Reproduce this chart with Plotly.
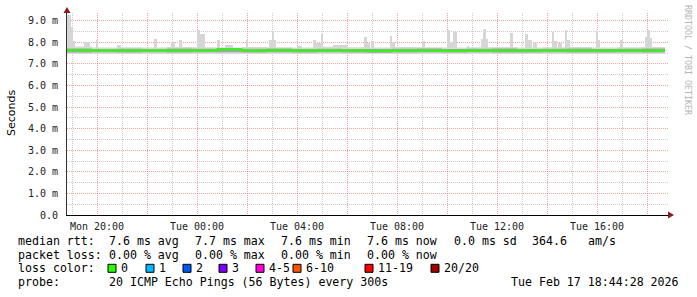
import plotly.graph_objects as go
from datetime import datetime, timedelta

# ---------------- data ----------------
t0 = datetime(2026, 2, 16, 18, 48, 0)          # left edge of graph
span_h = 24.04                                  # hours shown

# smoke band (hours from t0), values in ms
band_h = [0, 1, 2, 3, 4, 5, 6, 7, 8, 9, 10, 11, 12, 13, 14, 15, 16, 17, 18, 19, 20, 21, 22, 23, 23.92]
smoke_lo = [7.46, 7.47, 7.46, 7.47, 7.45, 7.47, 7.46, 7.46, 7.47, 7.45, 7.46, 7.47, 7.46,
            7.45, 7.46, 7.47, 7.46, 7.45, 7.46, 7.47, 7.46, 7.46, 7.45, 7.46, 7.46]
smoke_hi = [7.80, 7.76, 7.77, 7.76, 7.78, 7.77, 7.76, 7.78, 7.77, 7.76, 7.79, 7.77, 7.76,
            7.78, 7.77, 7.76, 7.77, 7.78, 7.76, 7.77, 7.78, 7.76, 7.77, 7.78, 7.78]
core_lo = [7.52, 7.53, 7.52, 7.53, 7.52, 7.53, 7.53, 7.52, 7.53, 7.52, 7.53, 7.52, 7.51,
           7.52, 7.53, 7.52, 7.53, 7.52, 7.52, 7.53, 7.52, 7.52, 7.53, 7.52, 7.52]
core_hi = [7.71, 7.69, 7.70, 7.69, 7.71, 7.70, 7.73, 7.70, 7.71, 7.69, 7.70, 7.69, 7.69,
           7.70, 7.71, 7.69, 7.70, 7.71, 7.69, 7.70, 7.71, 7.69, 7.70, 7.71, 7.71]
median_ms = [7.63, 7.61, 7.62, 7.61, 7.62, 7.62, 7.66, 7.61, 7.63, 7.61, 7.62, 7.61, 7.60,
             7.61, 7.62, 7.60, 7.61, 7.62, 7.61, 7.62, 7.61, 7.61, 7.62, 7.62, 7.62]

# smoke spikes: start / end (hours from t0) and top (ms)
spike_start = [0.00, 0.16, 0.24, 0.68, 1.16, 2.00, 3.48, 4.16, 4.48, 5.20, 5.32, 6.00, 6.32,
               7.16, 8.08, 8.20, 8.28, 9.20, 9.84, 9.96, 10.16, 10.64, 11.88, 12.00, 12.16,
               12.92, 13.00, 14.20, 15.20, 15.32, 15.44, 16.00, 16.56, 16.64, 16.76, 17.72,
               18.32, 18.44, 18.64, 19.40, 19.48, 19.64, 19.92, 20.00, 21.16, 21.24, 22.12,
               23.12, 23.20, 23.32]
spike_end = [0.16, 0.24, 0.32, 0.92, 1.24, 2.16, 3.60, 4.32, 4.60, 5.32, 5.52, 6.12, 6.64,
             7.24, 8.20, 8.28, 8.36, 9.40, 9.96, 10.16, 10.24, 11.20, 12.00, 12.12, 12.28,
             13.00, 13.12, 14.32, 15.32, 15.44, 15.60, 16.08, 16.64, 16.76, 16.84, 17.84,
             18.44, 18.60, 18.80, 19.48, 19.60, 19.80, 20.00, 20.12, 21.24, 21.32, 22.24,
             23.20, 23.32, 23.40]
spike_top = [9.27, 8.70, 8.06, 8.02, 8.12, 7.88, 8.15, 8.03, 8.10, 8.57, 8.40, 8.09, 7.87,
             8.09, 8.10, 8.50, 8.10, 7.82, 8.09, 7.95, 8.38, 7.87, 8.25, 7.95, 8.06,
             8.27, 8.02, 8.06, 8.55, 8.02, 8.45, 7.82, 8.15, 8.62, 8.15, 8.42,
             8.38, 8.08, 7.95, 8.48, 8.07, 7.98, 8.55, 8.10, 8.52, 8.10, 8.12,
             8.22, 8.56, 8.20]
spike_base = 7.60

y_tick_vals = [0, 1, 2, 3, 4, 5, 6, 7, 8, 9]
y_tick_text = ["0.0", "1.0 m", "2.0 m", "3.0 m", "4.0 m", "5.0 m", "6.0 m", "7.0 m", "8.0 m", "9.0 m"]
y_minor_vals = [0.5, 1.5, 2.5, 3.5, 4.5, 5.5, 6.5, 7.5, 8.5]

x_major_clock = ["2026-02-16 20:00", "2026-02-16 22:00", "2026-02-17 00:00", "2026-02-17 02:00",
                 "2026-02-17 04:00", "2026-02-17 06:00", "2026-02-17 08:00", "2026-02-17 10:00",
                 "2026-02-17 12:00", "2026-02-17 14:00", "2026-02-17 16:00", "2026-02-17 18:00"]
x_major_text = ["Mon 20:00", "", "Tue 00:00", "", "Tue 04:00", "", "Tue 08:00", "",
                "Tue 12:00", "", "Tue 16:00", ""]
x_minor_clock = ["2026-02-16 19:00", "2026-02-16 21:00", "2026-02-16 23:00", "2026-02-17 01:00",
                 "2026-02-17 03:00", "2026-02-17 05:00", "2026-02-17 07:00", "2026-02-17 09:00",
                 "2026-02-17 11:00", "2026-02-17 13:00", "2026-02-17 15:00", "2026-02-17 17:00"]

legend_rtt = ["7.6 ms avg", "7.7 ms max", "7.6 ms min", "7.6 ms now", "0.0 ms sd", "364.6", "am/s"]
legend_loss = ["0.00 % avg", "0.00 % max", "0.00 % min", "0.00 % now"]
loss_labels = ["0", "1", "2", "3", "4-5", "6-10", "11-19", "20/20"]
loss_colors = ["#26ff00", "#00b8ff", "#0059ff", "#7e00ff", "#ff00dd", "#ff5500", "#ff0000", "#a10000"]
probe_text = "20 ICMP Echo Pings (56 Bytes) every 300s"
stamp_text = "Tue Feb 17 18:44:28 2026"

# ---------------- layout geometry ----------------
W, H = 697, 297
L, R, T, B = 67, 29, 13, 82
PW, PH = W - L - R, H - T - B


def px_x(px):
    return (px - L) / PW


def px_y(py):
    return (H - B - py) / PH


def tm(h):
    return t0 + timedelta(hours=h)


band_x = [tm(h) for h in band_h]

fig = go.Figure()

# spikes (drawn first, under the band)
fig.add_trace(go.Bar(
    x=[tm((s + e) / 2) for s, e in zip(spike_start, spike_end)],
    y=[tp - spike_base for tp in spike_top],
    base=spike_base,
    width=[(e - s) * 3600000 for s, e in zip(spike_start, spike_end)],
    marker=dict(color="#d6d6d6", line=dict(width=0)),
    hoverinfo="skip",
))

# light smoke
fig.add_trace(go.Scatter(x=band_x, y=smoke_lo, mode="lines", line=dict(width=0, shape="hv"),
                         hoverinfo="skip"))
fig.add_trace(go.Scatter(x=band_x, y=smoke_hi, mode="lines", line=dict(width=0, shape="hv"),
                         fill="tonexty", fillcolor="#d8d8d8", hoverinfo="skip"))
# core smoke
fig.add_trace(go.Scatter(x=band_x, y=core_lo, mode="lines", line=dict(width=0, shape="hv"),
                         hoverinfo="skip"))
fig.add_trace(go.Scatter(x=band_x, y=core_hi, mode="lines", line=dict(width=0, shape="hv"),
                         fill="tonexty", fillcolor="#a4a4a4", hoverinfo="skip"))
# median
fig.add_trace(go.Scatter(x=band_x, y=median_ms, mode="lines",
                         line=dict(color="#26ff00", width=2, shape="hv"), hoverinfo="skip"))

major_grid = "rgba(220,90,90,0.55)"
minor_grid = "rgba(170,170,170,0.6)"
dash = "1px,1px"

fig.update_layout(
    width=W, height=H,
    margin=dict(l=L, r=R, t=T, b=B, pad=0),
    paper_bgcolor="white", plot_bgcolor="white",
    showlegend=False,
    bargap=0,
    xaxis=dict(
        type="date",
        range=[t0, tm(span_h)],
        tickmode="array", tickvals=x_major_clock, ticktext=x_major_text,
        showgrid=True, gridcolor=major_grid, griddash=dash, gridwidth=1,
        minor=dict(tickmode="array", tickvals=x_minor_clock, showgrid=True,
                   gridcolor=minor_grid, griddash=dash, gridwidth=1),
        showline=True, linecolor="black", linewidth=1,
        ticks="", zeroline=False,
        tickfont=dict(family="DejaVu Sans Mono", size=10, color="#222"),
        ticklabelstandoff=2,
        fixedrange=True,
    ),
    yaxis=dict(
        range=[0, (H - B - T) / 21.6],
        tickmode="array", tickvals=y_tick_vals, ticktext=y_tick_text,
        showgrid=True, gridcolor=major_grid, griddash=dash, gridwidth=1,
        minor=dict(tickmode="array", tickvals=y_minor_vals, showgrid=True,
                   gridcolor=minor_grid, griddash=dash, gridwidth=1),
        showline=True, linecolor="#333", linewidth=1,
        ticks="", zeroline=False,
        tickfont=dict(family="DejaVu Sans Mono", size=10, color="#222"),
        ticklabelstandoff=6,
        fixedrange=True,
    ),
)

# arrows on axes
arrow_col = "#8b1a1a"
fig.add_shape(type="path", xref="paper", yref="paper",
              xsizemode="pixel", ysizemode="pixel", xanchor=0, yanchor=1,
              path="M -3.5,0 L 3.5,0 L 0,6 Z", fillcolor=arrow_col, line=dict(width=0))
fig.add_shape(type="path", xref="paper", yref="paper",
              xsizemode="pixel", ysizemode="pixel", xanchor=1, yanchor=0,
              path="M 0,-3.5 L 0,3.5 L 6,0 Z", fillcolor=arrow_col, line=dict(width=0))

mono = "DejaVu Sans Mono"
fs = 11.6


def text(px, py, s, anchor="left", size=fs, color="black", family=mono, angle=0):
    fig.add_annotation(x=px_x(px), y=px_y(py), xref="paper", yref="paper",
                       text=s.replace(" ", "\u00a0"), showarrow=False,
                       xanchor=anchor, yanchor="middle", textangle=angle,
                       font=dict(family=family, size=size, color=color))


# y title and watermark
text(11, 113, "Seconds", anchor="center", size=11, family="DejaVu Sans", angle=-90)
text(688, 60, "RRDTOOL / TOBI OETIKER", anchor="center", size=8.3, color="#b4b4b4", angle=90)

# legend lines
row_y = [240.7, 254.6, 268.3, 282.4]
rtt_x = [107, 193, 279, 365, 451.5, 530, 586]
text(16, row_y[0], "median rtt:")
for xx, s in zip(rtt_x, legend_rtt):
    text(xx, row_y[0], s)
text(16, row_y[1], "packet loss:")
for xx, s in zip(rtt_x[:4], legend_loss):
    text(xx, row_y[1], s)
text(16, row_y[2], "loss color:")
sq_x = [108, 146, 183, 219, 256, 293, 365, 431]
for xx, lab, col in zip(sq_x, loss_labels, loss_colors):
    fig.add_shape(type="rect", xref="paper", yref="paper",
                  x0=px_x(xx), x1=px_x(xx + 8), y0=px_y(row_y[2] - 4), y1=px_y(row_y[2] + 4),
                  fillcolor=col, line=dict(color="black", width=1))
    text(xx + 11, row_y[2], lab)
text(16, row_y[3], "probe:")
text(107, row_y[3], probe_text)
text(681, row_y[3], stamp_text, anchor="right")

fig.write_html("out.html")
